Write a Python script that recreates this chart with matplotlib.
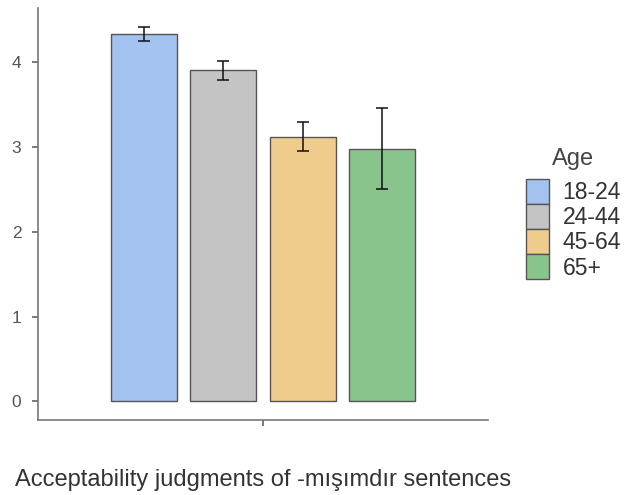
import matplotlib.pyplot as plt
from matplotlib.patches import Patch

plt.rcParams['font.family'] = ['Liberation Sans', 'DejaVu Sans']

# Data
ages = ["18-24", "24-44", "45-64", "65+"]
means = [4.33, 3.91, 3.12, 2.98]
err_low = [4.25, 3.79, 2.95, 2.50]
err_high = [4.42, 4.02, 3.29, 3.46]
colors = ["#A4C2F0", "#C4C4C4", "#F0CC8C", "#88C48C"]
xlabel = "Acceptability judgments of -mışımdır sentences"

fig = plt.figure(figsize=(6.24, 4.95), dpi=100)
ax = fig.add_axes([0.061, 0.1515, 0.721, 0.8323])

spacing = 0.212
width = 0.176
for i, (a, m, lo, hi, c) in enumerate(zip(ages, means, err_low, err_high, colors)):
    x = 1 + (i - 1.5) * spacing
    ax.bar(x, m, width=width, color=c, edgecolor="#555555", linewidth=1.0, zorder=2)
    ax.errorbar(x, m, yerr=[[m - lo], [hi - m]], fmt="none", ecolor="#111111",
                elinewidth=1.1, capsize=4, capthick=1.1, zorder=3)

ax.set_xlim(0.4, 1.6)
ax.set_ylim(-0.221, 4.64)
ax.set_yticks([0, 1, 2, 3, 4])
ax.set_xticks([1])
ax.set_xticklabels([""])
for s in ["top", "right"]:
    ax.spines[s].set_visible(False)
for s in ["left", "bottom"]:
    ax.spines[s].set_color("#777777")
    ax.spines[s].set_linewidth(1.2)
ax.tick_params(axis="both", colors="#555555", length=4, width=1.1, labelsize=12.5)
ax.tick_params(axis="y", labelcolor="#555555", pad=8)
ax.set_xlabel(xlabel, fontsize=17, color="#333333", labelpad=28)

# legend: title drawn separately so it can sit a little above the keys
handles = [Patch(facecolor=c, edgecolor="#555555", linewidth=1.0) for c in colors]
leg = fig.legend(handles, ages, loc="upper left",
                 bbox_to_anchor=(0.843, 0.638), frameon=False, fontsize=16.5,
                 handlelength=1.0, handleheight=1.29,
                 labelspacing=0.0, handletextpad=0.6, borderaxespad=0,
                 borderpad=0)
for t in leg.get_texts():
    t.set_color("#333333")
fig.text(0.918, 0.679, "Age", fontsize=17, color="#444444", ha="center", va="center")

fig.savefig("out.png", dpi=100)
